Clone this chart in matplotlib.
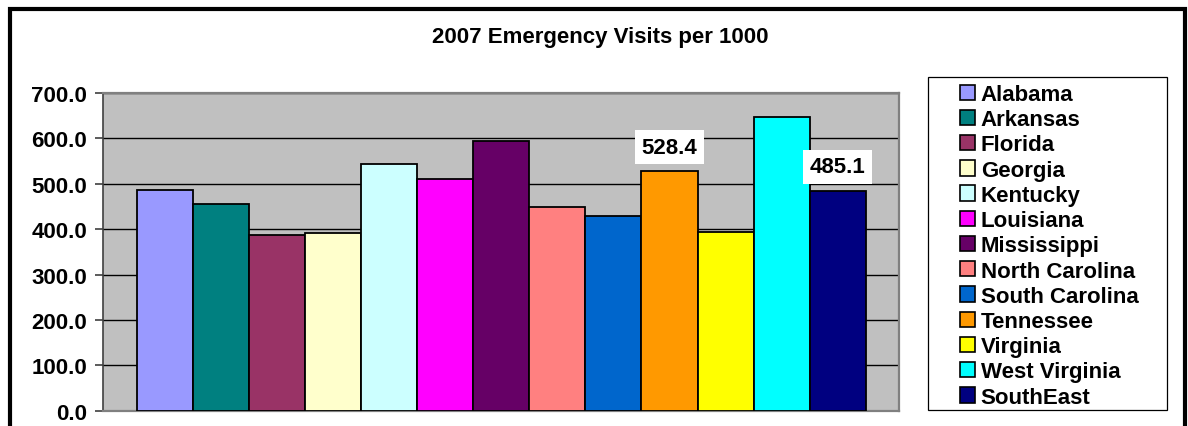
import matplotlib
matplotlib.use("Agg")
import matplotlib.pyplot as plt
from matplotlib.patches import Patch, Rectangle

plt.rcParams['font.family'] = ['Liberation Sans', 'DejaVu Sans']
plt.rcParams['font.weight'] = 'bold'

states = ["Alabama", "Arkansas", "Florida", "Georgia", "Kentucky", "Louisiana",
          "Mississippi", "North Carolina", "South Carolina", "Tennessee",
          "Virginia", "West Virginia", "SouthEast"]
visits = [486.5, 456.0, 388.0, 392.0, 544.0, 511.0, 595.0, 448.0, 428.0,
          528.4, 394.0, 647.0, 485.1]
colors = ["#9999FF", "#008080", "#993366", "#FFFFCC", "#CCFFFF", "#FF00FF",
          "#660066", "#FF8080", "#0066CC", "#FF9900", "#FFFF00", "#00FFFF",
          "#000080"]
labelled = ["Tennessee", "SouthEast"]
yticks = [0, 100, 200, 300, 400, 500, 600, 700]

FS = 16
W, H = 1188, 427
fig = plt.figure(figsize=(W / 100, H / 100), dpi=100)

# outer chart border
fig.patches.append(Rectangle((9.5 / W, -0.1), (1185 - 9.5) / W, 1.1 - 10 / H,
                             transform=fig.transFigure, fill=False,
                             edgecolor="black", linewidth=3))

ax = fig.add_axes([103.3 / W, 1 - 411.7 / H, (898.7 - 103.3) / W, (411.7 - 94) / H])
ax.set_facecolor("#C0C0C0")
ax.set_axisbelow(True)

xs = list(range(len(states)))
ax.bar(xs, visits, width=1.0, color=colors, edgecolor="black", linewidth=1.3, zorder=3)

for i, (name, v) in enumerate(zip(states, visits)):
    if name in labelled:
        ax.text(i, v + 52, f"{v:.1f}", ha="center", va="center", fontsize=FS,
                fontweight="bold", zorder=5,
                bbox=dict(boxstyle="square,pad=0.3", facecolor="white", edgecolor="none"))

ax.set_xlim(-1.094, 13.087)
ax.set_ylim(0, 700)
ax.set_yticks(yticks)
ax.set_yticklabels([f"{t:.1f}" for t in yticks], fontsize=FS, fontweight="bold")
ax.set_xticks([])
ax.tick_params(axis="y", length=5.5, width=1.2, color="#404040", pad=6)
ax.yaxis.grid(True, color="black", linewidth=1.0)

for side in ["top", "right", "bottom"]:
    ax.spines[side].set_color("#808080")
    ax.spines[side].set_linewidth(1.6)
ax.spines["left"].set_color("#404040")
ax.spines["left"].set_linewidth(1.2)

fig.text(600 / W, 1 - 38 / H, "2007 Emergency Visits per 1000", ha="center", va="center",
         fontsize=FS, fontweight="bold")

# legend box
fig.patches.append(Rectangle((928.3 / W, 1 - 410.7 / H), (1166.7 - 928.3) / W, (410.7 - 78.3) / H,
                             transform=fig.transFigure, facecolor="white",
                             edgecolor="black", linewidth=0.9))
handles = [Patch(facecolor=c, edgecolor="black", linewidth=1.2) for c in colors]
leg = fig.legend(handles, states, loc="upper left", bbox_to_anchor=(960 / W, 1 - 85 / H),
                 frameon=False, fontsize=FS, handlelength=0.68, handleheight=0.68,
                 handletextpad=0.25, labelspacing=0.19, borderpad=0, borderaxespad=0)
for t in leg.get_texts():
    t.set_fontweight("bold")

fig.savefig("out.png", dpi=100)
